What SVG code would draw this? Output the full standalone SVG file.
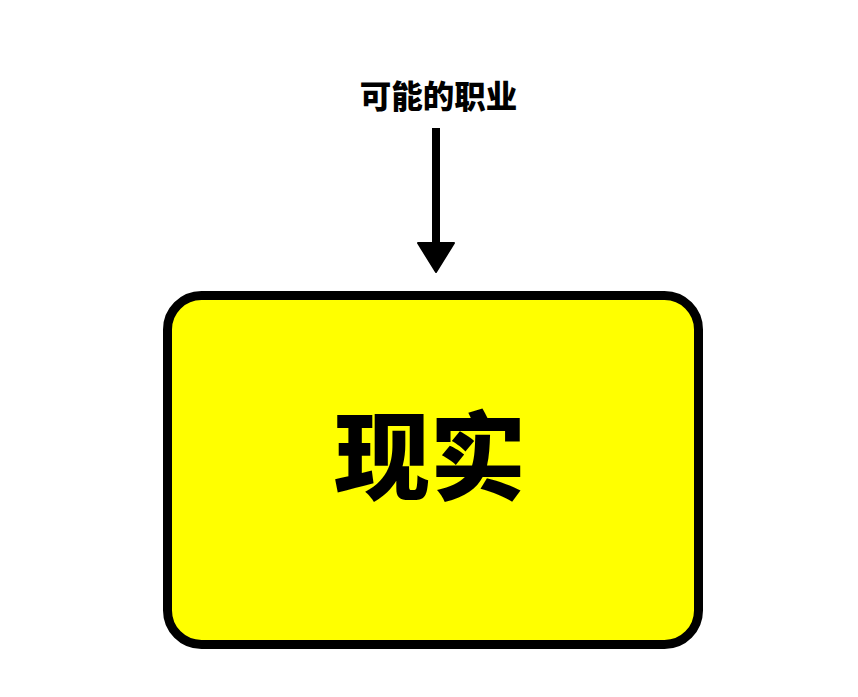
<svg xmlns="http://www.w3.org/2000/svg" width="858" height="697" viewBox="0 0 858 697">
<style>
.t{font-family:"Noto Sans CJK SC","Noto Sans",sans-serif;font-weight:900;fill:#000;text-anchor:middle}
.conn{stroke:#000;stroke-width:8}
</style>
<rect width="858" height="697" fill="#fff"/>
<g id="label">
<text class="t" x="438.5" y="108" font-size="31.5">可能的职业</text>
</g>
<g id="connectors">
<line class="conn" x1="436" y1="128" x2="436" y2="245"/>
<path d="M418,243 L454,243 L436,272 Z" fill="#000" stroke="#000" stroke-width="2" stroke-linejoin="round"/>
</g>
<g id="reality">
<rect x="167.5" y="295.5" width="531" height="349" rx="34" ry="34" fill="#ffff00" stroke="#000" stroke-width="9"/>
<text class="t" x="430" y="492" font-size="96">现实</text>
</g>
</svg>
